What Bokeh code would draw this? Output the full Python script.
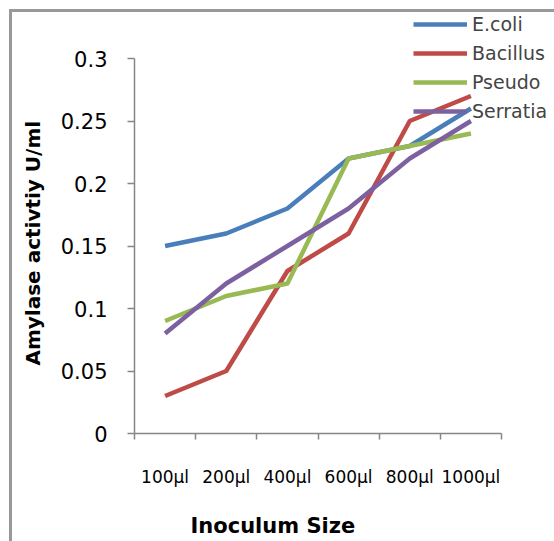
from bokeh.plotting import figure
from bokeh.models import Range1d, FixedTicker, Legend, LegendItem, Title
from bokeh.embed import file_html
from bokeh.resources import INLINE

categories = ["100µl", "200µl", "400µl", "600µl", "800µl", "1000µl"]
ecoli = [0.15, 0.16, 0.18, 0.22, 0.23, 0.26]
bacillus = [0.03, 0.05, 0.13, 0.16, 0.25, 0.27]
pseudo = [0.09, 0.11, 0.12, 0.22, 0.23, 0.24]
serratia = [0.08, 0.12, 0.15, 0.18, 0.22, 0.25]
yticks = [0, 0.05, 0.1, 0.15, 0.2, 0.25, 0.3]
ytick_labels = ["0", "0.05", "0.1", "0.15", "0.2", "0.25", "0.3"]
y_max = 0.3

series = [
    ("E.coli", ecoli, "#4A7EBB"),
    ("Bacillus", bacillus, "#BE4B48"),
    ("Pseudo", pseudo, "#98B954"),
    ("Serratia", serratia, "#7D60A0"),
]

# layout constants (page pixels)
OFF_X, OFF_Y = 12, 12          # chart-area border offset
AXIS_L, AXIS_B = 134, 433      # axis origin on the page
AXIS_R, AXIS_T = 501, 58       # end of x axis, top of y axis
FRAME_L, FRAME_B = 48, 511     # drawing frame (left, bottom)
PAGE_W, PAGE_H = 554, 541

n = len(categories)
xs = list(range(1, n + 1))
bounds = [i + 0.5 for i in range(n + 1)]

px_x = (AXIS_R - AXIS_L) / n
px_y = (AXIS_B - AXIS_T) / y_max
x_start = 0.5 - (AXIS_L - FRAME_L) / px_x
x_end = 0.5 + (PAGE_W - AXIS_L) / px_x
y_end = (AXIS_B - OFF_Y) / px_y
y_start = -(FRAME_B - AXIS_B) / px_y

p = figure(width=PAGE_W - OFF_X, height=PAGE_H - OFF_Y, output_backend="svg",
           toolbar_location=None, title=None,
           x_range=Range1d(x_start, x_end), y_range=Range1d(y_start, y_end),
           min_border_left=FRAME_L - OFF_X, min_border_right=0, min_border_top=0,
           min_border_bottom=PAGE_H - FRAME_B)
p.margin = (OFF_Y, 0, 0, OFF_X)
p.styles = {"outline": "3px solid #999999"}
p.outline_line_color = None
p.grid.grid_line_color = None
p.background_fill_color = "white"
p.border_fill_color = "white"

axis_color = "#868686"
for ax in (p.xaxis[0], p.yaxis[0]):
    ax.axis_line_color = axis_color
    ax.axis_line_width = 1.5
    ax.major_tick_line_color = axis_color
    ax.major_tick_line_width = 1.5
    ax.minor_tick_line_color = axis_color
    ax.minor_tick_line_width = 1.5
    ax.major_label_text_font = "DejaVu Sans"
    ax.major_label_text_color = "black"

# y axis (drawn at the left category edge)
p.yaxis.fixed_location = 0.5
p.yaxis.bounds = (0, y_max)
p.yaxis.ticker = FixedTicker(ticks=yticks)
p.yaxis.major_label_overrides = dict(zip(yticks, ytick_labels))
p.yaxis.major_tick_out = 7
p.yaxis.major_tick_in = 0
p.yaxis.minor_tick_out = 0
p.yaxis.minor_tick_in = 0
p.yaxis.major_label_text_font_size = "21px"
p.yaxis.major_label_standoff = 20

# x axis (drawn at y = 0)
p.xaxis.fixed_location = 0
p.xaxis.bounds = (0.5, n + 0.5)
p.xaxis.ticker = FixedTicker(ticks=xs, minor_ticks=bounds)
p.xaxis.major_label_overrides = dict(zip(xs, categories))
p.xaxis.major_tick_out = 0
p.xaxis.major_tick_in = 0
p.xaxis.minor_tick_out = 6
p.xaxis.minor_tick_in = 0
p.xaxis.major_label_text_font_size = "17px"
p.xaxis.major_label_standoff = 27

xtitle = Title(text="Inoculum Size", align="left", offset=190 - FRAME_L, standoff=1,
               text_font="DejaVu Sans", text_font_style="bold",
               text_font_size="21px", text_color="black")
p.add_layout(xtitle, "below")
ytitle = Title(text="Amylase activtiy U/ml", align="left",
               offset=FRAME_B - 365, standoff=8,
               text_font="DejaVu Sans", text_font_style="bold",
               text_font_size="20px", text_color="black")
p.add_layout(ytitle, "left")

items = []
for name, vals, color in series:
    r = p.line(xs, vals, line_color=color, line_width=4.5, line_join="round")
    items.append(LegendItem(label=name, renderers=[r]))

legend = Legend(items=items, location=(413 - FRAME_L, 310 + FRAME_B - AXIS_B),
                padding=0, margin=0, spacing=5, glyph_width=54, glyph_height=24,
                label_height=24, label_standoff=5,
                label_text_font="DejaVu Sans", label_text_font_size="19px",
                border_line_color=None, background_fill_alpha=0)
p.add_layout(legend)

open("out.html", "w").write(file_html(p, INLINE))
